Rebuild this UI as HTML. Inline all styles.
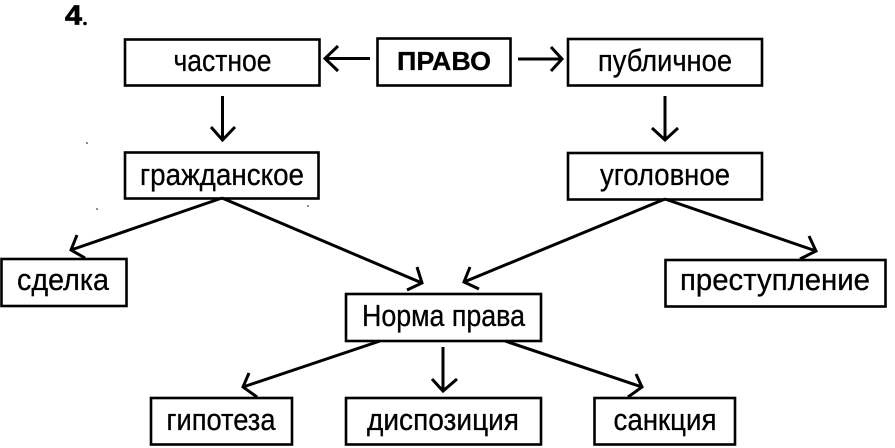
<!DOCTYPE html>
<html><head><meta charset="utf-8"><style>
html,body{margin:0;padding:0;background:#fff}
svg{display:block}
text{font-family:"Liberation Sans","DejaVu Sans",sans-serif;font-size:30.5px;fill:#000;text-anchor:middle;stroke:#000;stroke-width:.3}
rect{fill:#fff;stroke:#000;stroke-width:2.6}
path{fill:none;stroke:#000;stroke-width:3}
circle{fill:#000}
</style></head><body>
<svg width="895" height="448" viewBox="0 0 895 448" xmlns="http://www.w3.org/2000/svg">
<text x="73.5" y="24.5" textLength="17" lengthAdjust="spacingAndGlyphs" style="font-weight:bold;font-size:28px;stroke-width:.7">4</text><circle cx="85" cy="23.5" r="1.8"/>
<rect x="125" y="39.5" width="194.5" height="46"/><text x="222.5" y="71" textLength="98" lengthAdjust="spacingAndGlyphs">частное</text>
<rect x="377.5" y="38.5" width="133" height="47"/><text x="444" y="70" textLength="94" lengthAdjust="spacingAndGlyphs" style="font-weight:bold;font-size:26px">ПРАВО</text>
<rect x="568" y="39" width="194" height="46.5"/><text x="665" y="71" textLength="134" lengthAdjust="spacingAndGlyphs">публичное</text>
<rect x="125" y="152.5" width="193.5" height="46"/><text x="222" y="185" textLength="164" lengthAdjust="spacingAndGlyphs">гражданское</text>
<rect x="568" y="153" width="194" height="46.5"/><text x="665" y="185" textLength="130" lengthAdjust="spacingAndGlyphs">уголовное</text>
<rect x="1.5" y="259" width="125" height="47"/><text x="63" y="290" textLength="92" lengthAdjust="spacingAndGlyphs">сделка</text>
<rect x="665.5" y="260" width="220" height="46.5"/><text x="775" y="290" textLength="190" lengthAdjust="spacingAndGlyphs">преступление</text>
<rect x="346" y="294" width="195" height="47"/><text x="443.5" y="326" textLength="163" lengthAdjust="spacingAndGlyphs">Норма права</text>
<rect x="151" y="398" width="141" height="46.5"/><text x="221" y="430" textLength="109" lengthAdjust="spacingAndGlyphs">гипотеза</text>
<rect x="346" y="398" width="195" height="46.5"/><text x="443" y="430" textLength="152" lengthAdjust="spacingAndGlyphs">диспозиция</text>
<rect x="594.5" y="398" width="140.5" height="46.5"/><text x="665" y="430" textLength="103" lengthAdjust="spacingAndGlyphs">санкция</text>
<path d="M370 58.5H325M338 46L325 58.5L338 71"/>
<path d="M518 59H562M551 47L562 59L551 71"/>
<path d="M222.5 96V140M211 127L222.5 140L235 127"/>
<path d="M665 96V140M652 128L665 140L678 128"/>
<path d="M222 198L71 250M77 235L71 250L85 258"/>
<path d="M222 198L422 283M417 267L422 283L407 290"/>
<path d="M665 199L464 282M470 267L464 282L479 289"/>
<path d="M665 199L816 251M809 236L816 251L800 259"/>
<path d="M380 341L243 387M249 373L243 387L257 397"/>
<path d="M443 347V391M432 379L443 391L457 379"/>
<path d="M505 341L642 387M636 374L642 387L628 397"/>
<circle cx="87" cy="143" r=".8"/><circle cx="97" cy="209" r=".8"/><circle cx="308" cy="206" r=".8"/>
</svg>
</body></html>
